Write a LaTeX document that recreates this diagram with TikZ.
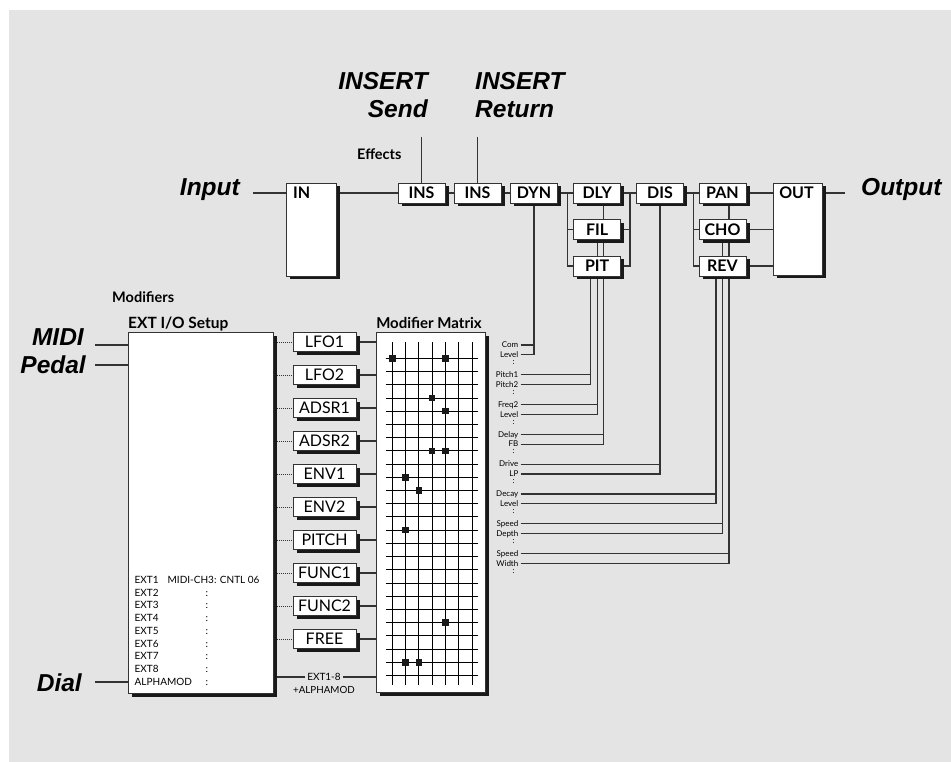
\documentclass[tikz,border=0pt]{standalone}
\usepackage{fontspec}
\setmainfont{Lato}
\newfontfamily\arialfont{Liberation Sans}
\usepackage{tikz}
\usetikzlibrary{shadows}
\definecolor{panel}{rgb}{0.894, 0.894, 0.894}
\definecolor{wirecol}{rgb}{0.2, 0.2, 0.2}
\definecolor{shadecol}{rgb}{0.1, 0.1, 0.1}
\pgfdeclarelayer{bg}
\pgfsetlayers{bg,main}
\tikzstyle{wire}=[draw=wirecol, line width=1.2pt]
\tikzstyle{fxbox}=[draw=wirecol, fill=white, line width=0.9pt, inner sep=0pt, minimum width=47pt, minimum height=20pt, font=\fontsize{16}{18}\selectfont\bfseries, drop shadow={shadow xshift=3.5pt, shadow yshift=-3.5pt, opacity=1, fill=shadecol}]
\tikzstyle{modbox}=[fxbox, minimum width=63pt, minimum height=19pt, font=\fontsize{16}{18}\selectfont]
\tikzstyle{boxlbl}=[inner sep=0pt, font=\fontsize{16}{18}\selectfont\bfseries]
\tikzstyle{biglbl}=[inner sep=0pt, font=\arialfont\fontsize{24.5}{26}\selectfont\bfseries\itshape]
\tikzstyle{head}=[inner sep=0pt, font=\fontsize{14.5}{16}\selectfont\bfseries]
\tikzstyle{dest}=[inner sep=0pt, anchor=east, text height=5.5pt, text depth=0pt, font=\fontsize{8}{9}\selectfont]
\tikzstyle{extlbl}=[inner sep=0pt, anchor=base west, font=\fontsize{10}{11}\selectfont]
\tikzstyle{grid}=[draw=black, line width=0.9pt]
\tikzstyle{dot}=[fill=shadecol, minimum size=6.5pt, inner sep=0pt]

\begin{document}
\begin{tikzpicture}[x=1pt,y=-1pt]
\useasboundingbox (0,0) rectangle (951,762);
\begin{pgfonlayer}{bg}
\fill[panel] (9,10) rectangle (951,762);
\end{pgfonlayer}

\node[biglbl, anchor=base east] (input) at (240,196) {Input};
\node[biglbl, anchor=base west] (output) at (861,196) {Output};
\node[biglbl, anchor=base east] (sendA) at (428,90) {INSERT};
\node[biglbl, anchor=base east] (sendB) at (428,118) {Send};
\node[biglbl, anchor=base west] (retA) at (475,90) {INSERT};
\node[biglbl, anchor=base west] (retB) at (475,118) {Return};
\node[head, anchor=base west] (effects) at (357,160) {Effects};

\node[fxbox, minimum width=50pt, minimum height=93pt] (in) at (311,229.5) {};
\node[boxlbl, anchor=west] (intxt) at (293,193) {IN};
\node[fxbox] (ins1) at (421.5,193) {INS};
\node[fxbox] (ins2) at (477.5,193) {INS};
\node[fxbox] (dyn) at (534,193) {DYN};
\node[fxbox] (dly) at (597.2,193) {DLY};
\node[fxbox] (fil) at (597.2,229.5) {FIL};
\node[fxbox] (pit) at (597.2,266) {PIT};
\node[fxbox] (dis) at (660,193) {DIS};
\node[fxbox] (pan) at (722.5,193) {PAN};
\node[fxbox] (cho) at (722.5,229.5) {CHO};
\node[fxbox] (rev) at (722.5,266) {REV};
\node[fxbox, minimum width=49pt, minimum height=92pt] (out) at (797.5,229) {};
\node[boxlbl] (outtxt) at (796.5,193) {OUT};

\coordinate (inpt) at (253,193);
\coordinate (outpt) at (845,193);
\coordinate (sendpt) at (421.5,137);
\coordinate (retpt) at (477.5,137);
\coordinate (dsplit) at (567.7,193);
\coordinate (dmerge) at (630,193);
\coordinate (psplit) at (693.3,193);
\coordinate (dlymod) at ([xshift=6.6pt]dly.south);
\coordinate (filmod) at (fil.south);
\coordinate (pitmod) at ([xshift=-6.6pt]pit.south);
\coordinate (panmod) at ([xshift=6.5pt]pan.south);
\coordinate (chomod) at (cho.south);
\coordinate (revmod) at ([xshift=-6.5pt]rev.south);

\begin{pgfonlayer}{bg}
\draw[wire] (inpt) -- (inpt -| in.west);
\draw[wire] (in.east |- ins1) -- (ins1.west);
\draw[wire] (ins1.east) -- (ins2.west);
\draw[wire] (ins2.east) -- (dyn.west);
\draw[wire] (sendpt) -- (ins1.north);
\draw[wire] (retpt) -- (ins2.north);
\draw[wire] (dyn.east) -- (dly.west);
\draw[wire] (dsplit) |- (fil.west);
\draw[wire] (dsplit) |- (pit.west);
\draw[wire] (dly.east) -- (dis.west);
\draw[wire] (fil.east) -| (dmerge);
\draw[wire] (pit.east) -| (dmerge);
\draw[wire] (dis.east) -- (pan.west);
\draw[wire] (psplit) |- (cho.west);
\draw[wire] (psplit) |- (rev.west);
\draw[wire] (pan.east) -- (pan.east -| out.west);
\draw[wire] (cho.east) -- (cho.east -| out.west);
\draw[wire] (rev.east) -- (rev.east -| out.west);
\draw[wire] (out.east |- outpt) -- (outpt);
\end{pgfonlayer}

\node[head, anchor=base west] (modifiers) at (112,302) {Modifiers};
\node[head, anchor=base west, font=\fontsize{15.5}{17}\selectfont\bfseries] (extttl) at (128,328) {EXT I/O Setup};
\node[head, anchor=base, font=\fontsize{15}{17}\selectfont\bfseries] (matttl) at (429,328) {Modifier Matrix};
\node[fxbox, minimum width=145pt, minimum height=361pt] (ext) at (200.5,512.5) {};
\node[fxbox, minimum width=109pt, minimum height=360pt] (mat) at (430.5,512) {};

\node[biglbl, anchor=base east] (midi) at (84,345) {MIDI};
\node[biglbl, anchor=base east] (pedal) at (86,373) {Pedal};
\node[biglbl, anchor=base east] (dial) at (82,691) {Dial};
\coordinate (midipt) at (95,345);
\coordinate (pedalpt) at (95,365);
\coordinate (dialpt) at (95,682);

\foreach \k/\t in {0/EXT1,1/EXT2,2/EXT3,3/EXT4,4/EXT5,5/EXT6,6/EXT7,7/EXT8,8/ALPHAMOD}
  \node[extlbl] (e\k) at (134.5,{583.3+12.75*\k}) {\t};
\node[extlbl] (cc) at (167.5,583.3) {MIDI-CH3: CNTL 06};
\foreach \k in {1,...,8}
  \node[extlbl] (ec\k) at (205.5,{583.3+12.75*\k}) {:};

\foreach \i/\t in {0/LFO1,1/LFO2,2/ADSR1,3/ADSR2,4/ENV1,5/ENV2,6/PITCH,7/FUNC1,8/FUNC2,9/FREE} {
  \node[modbox] (m\i) at (324.5,{342+33*\i}) {\t};
  \begin{pgfonlayer}{bg}
  \draw[draw=wirecol, line width=1pt, densely dotted] (m\i.west -| ext.east) -- (m\i.west);
  \draw[wire] (m\i.east) -- (m\i.east -| mat.west);
  \end{pgfonlayer}
}

\node[fill=panel, inner sep=2pt, font=\fontsize{10}{11}\selectfont] (extsum) at (324,677) {EXT1-8};
\node[inner sep=0pt, font=\fontsize{9.8}{11}\selectfont] (alphasum) at (324,689.5) {+ALPHAMOD};

\begin{pgfonlayer}{bg}
\draw[wire] (midipt) -- (midipt -| ext.west);
\draw[wire] (pedalpt) -- (pedalpt -| ext.west);
\draw[wire] (dialpt) -- (dialpt -| ext.west);
\draw[wire] (ext.east |- extsum) -- (extsum -| mat.west);
\end{pgfonlayer}

\foreach \c in {0,...,6}
  \draw[grid] ({392.3+13.28*\c},342) -- ({392.3+13.28*\c},685);
\foreach \r in {0,...,24}
  \draw[grid] (385.7,{358.3+13.22*\r}) -- (478.3,{358.3+13.22*\r});
\foreach \c/\r in {0/0,4/0,3/3,4/4,3/7,4/7,1/9,2/10,1/13,4/20,1/23,2/23}
  \node[dot] (p\c-\r) at ({392.3+13.28*\c},{358.3+13.22*\r}) {};

\foreach \g/\a/\b/\tgt in {0/Com/Level/dyn.south, 1/Pitch1/Pitch2/pitmod, 2/Freq2/Level/filmod, 3/Delay/FB/dlymod, 4/Drive/LP/dis.south, 5/Decay/Level/revmod, 6/Speed/Depth/chomod, 7/Speed/Width/panmod} {
  \node[dest] (da\g) at (518.5,{345+29.8*\g}) {\a};
  \node[dest] (db\g) at (518.5,{354.8+29.8*\g}) {\b};
  \node[inner sep=0pt, font=\fontsize{8}{9}\selectfont] (dc\g) at (513.5,{362.5+29.8*\g}) {:};
  \begin{pgfonlayer}{bg}
  \draw[wire, shorten <=2pt] (da\g.east) -| (\tgt);
  \draw[wire, shorten <=2pt] (db\g.east) -| (\tgt);
  \end{pgfonlayer}
}
\end{tikzpicture}
\end{document}
